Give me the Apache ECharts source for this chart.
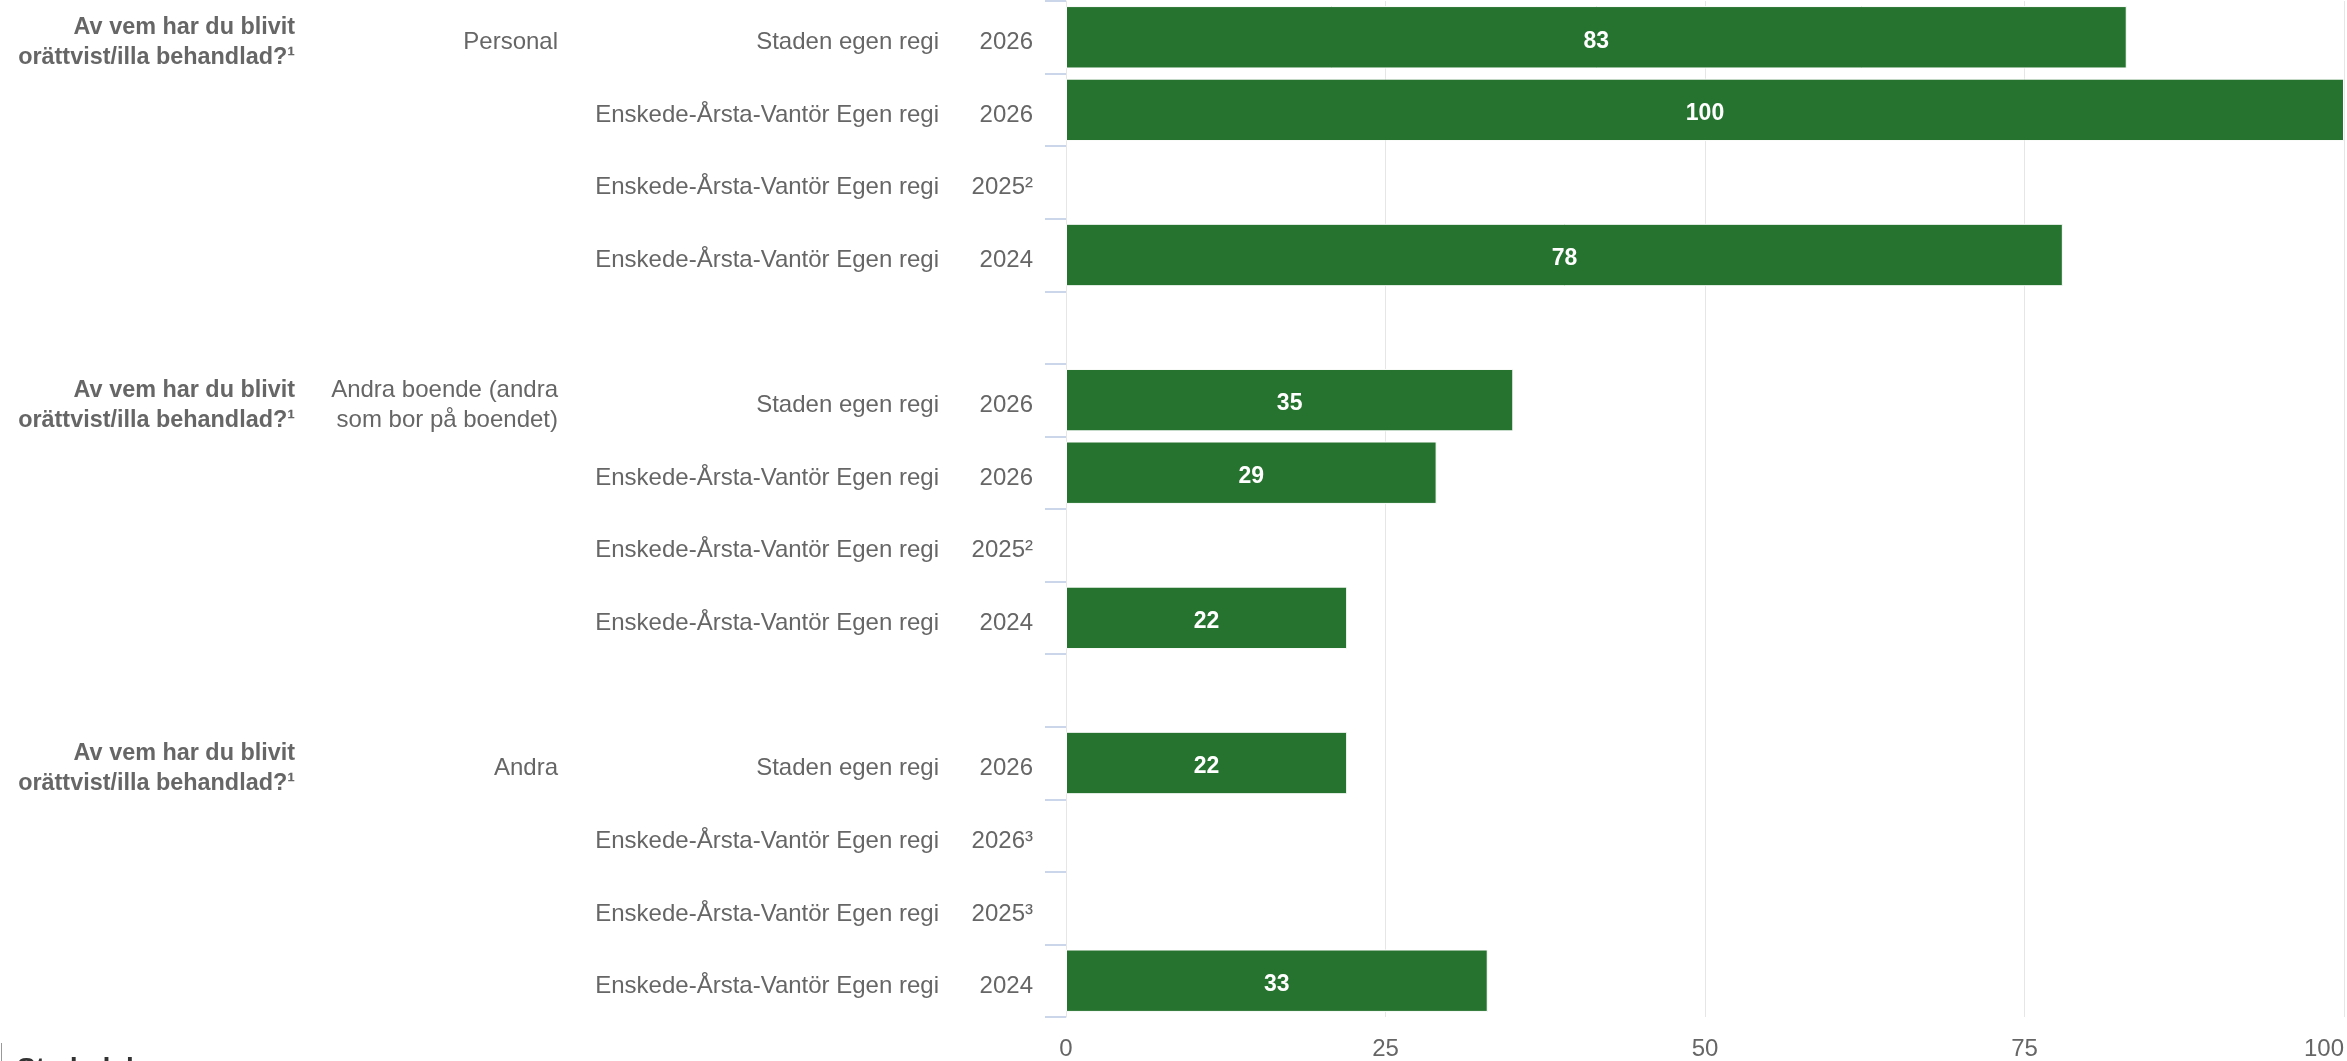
<!DOCTYPE html>
<html>
<head>
<meta charset="utf-8">
<script src="https://cdn.jsdelivr.net/npm/echarts@6/dist/echarts.min.js"></script>
<style>
  html, body { margin: 0; padding: 0; background: #ffffff; }
  #chart { width: 2347px; height: 1061px; }
</style>
</head>
<body>
<div id="chart"></div>
<script>
// ---- Data (one entry per row, top to bottom; '' rows are group spacers) ----
const questionLabels = [
  'Av vem har du blivit\norättvist/illa behandlad?¹', '', '', '', '',
  'Av vem har du blivit\norättvist/illa behandlad?¹', '', '', '', '',
  'Av vem har du blivit\norättvist/illa behandlad?¹', '', '', ''
];
const groupLabels = [
  'Personal', '', '', '', '',
  'Andra boende (andra\nsom bor på boendet)', '', '', '', '',
  'Andra', '', '', ''
];
const unitLabels = [
  'Staden egen regi', 'Enskede-Årsta-Vantör Egen regi', 'Enskede-Årsta-Vantör Egen regi', 'Enskede-Årsta-Vantör Egen regi', '',
  'Staden egen regi', 'Enskede-Årsta-Vantör Egen regi', 'Enskede-Årsta-Vantör Egen regi', 'Enskede-Årsta-Vantör Egen regi', '',
  'Staden egen regi', 'Enskede-Årsta-Vantör Egen regi', 'Enskede-Årsta-Vantör Egen regi', 'Enskede-Årsta-Vantör Egen regi'
];
const yearLabels = [
  '2026', '2026', '2025²', '2024', '',
  '2026', '2026', '2025²', '2024', '',
  '2026', '2026³', '2025³', '2024'
];
const values = [83, 100, null, 78, null, 35, 29, null, 22, null, 22, null, null, 33];
const xTicks = [0, 25, 50, 75, 100];

// ---- Chart ----
const FONT = "'Liberation Sans', Arial, sans-serif";
const rowIds = yearLabels.map((_, i) => String(i));

function catAxis(gridIndex, labels, offset, margin, extra) {
  return Object.assign({
    type: 'category',
    gridIndex: gridIndex,
    data: rowIds,
    inverse: true,
    position: 'left',
    offset: offset,
    boundaryGap: true,
    axisLine: { show: false },
    axisTick: { show: false },
    splitLine: { show: false },
    axisLabel: {
      show: labels !== null,
      interval: 0,
      margin: margin,
      color: '#666666',
      fontFamily: FONT,
      fontSize: 24,
      lineHeight: 30,
      align: 'right',
      formatter: (v, i) => labels ? labels[Number(v)] : ''
    }
  }, extra || {});
}

const chart = echarts.init(document.getElementById('chart'), null, { renderer: 'canvas' });

const yAxes = [
  // grid 0: the bar axis with ticks and line
  catAxis(0, null, 0, 33, {
    axisTick: {
      show: true, interval: 0, length: 21, inside: false,
      lineStyle: { color: '#ccd6eb', width: 2 }
    },
    axisLine: { show: true, lineStyle: { color: '#e6e6e6', width: 1 } }
  }),
  // grid 1: label columns (same rows, text sits slightly lower like the original)
  catAxis(1, yearLabels, 0, 33),
  catAxis(1, unitLabels, 127, 0),
  catAxis(1, groupLabels, 508, 0),
  catAxis(1, questionLabels, 771, 0)
];
yAxes[4].axisLabel.fontWeight = 'bold';
yAxes[4].axisLabel.fontSize = 23.4;

chart.setOption({
  animation: false,
  backgroundColor: '#ffffff',
  grid: [
    { left: 1066, right: 3, top: 1, bottom: 43, containLabel: false },
    { left: 1066, right: 3, top: 6, bottom: 38, containLabel: false }
  ],
  xAxis: [{
    type: 'value',
    gridIndex: 0,
    min: xTicks[0],
    max: xTicks[xTicks.length - 1],
    interval: 25,
    axisLine: { show: false },
    axisTick: { show: false },
    splitLine: { show: true, lineStyle: { color: '#e6e6e6', width: 1 } },
    axisLabel: {
      color: '#666666',
      fontFamily: FONT,
      fontSize: 24,
      margin: 20,
      alignMaxLabel: 'right'
    }
  }, {
    type: 'value',
    gridIndex: 1,
    min: 0, max: 100, interval: 25,
    show: false
  }],
  yAxis: yAxes,
  series: [{
    type: 'bar',
    xAxisIndex: 0,
    yAxisIndex: 0,
    data: values,
    barCategoryGap: '14%',
    itemStyle: { color: '#26732f', borderColor: '#ffffff', borderWidth: 1 },
    label: {
      show: true,
      position: 'inside',
      offset: [0, 4],
      color: '#ffffff',
      fontFamily: FONT,
      fontSize: 23,
      fontWeight: 'bold'
    }
  }],
  graphic: [
    { type: 'line', shape: { x1: 1.5, y1: 1043, x2: 1.5, y2: 1061 }, style: { stroke: '#999999', lineWidth: 1 } },
    { type: 'text', left: 17, top: 1055, style: { text: 'Stadsdel', fill: '#333333', font: "bold 28px 'Liberation Sans', Arial, sans-serif" } }
  ]
});
</script>
</body>
</html>
